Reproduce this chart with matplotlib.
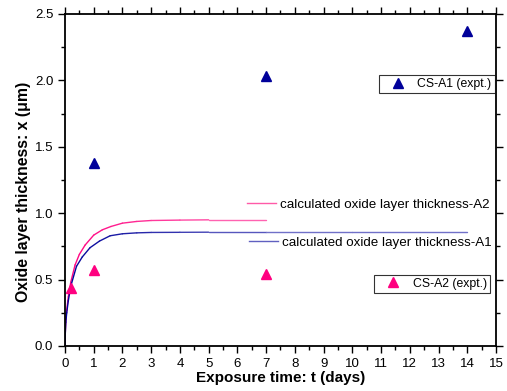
import numpy as np
import matplotlib
matplotlib.use("Agg")
import matplotlib.pyplot as plt
from matplotlib.collections import LineCollection
from matplotlib.lines import Line2D
from matplotlib.ticker import MultipleLocator

plt.rcParams['font.family'] = ['Liberation Sans', 'DejaVu Sans']

# experimental data
t_a1 = [1, 7, 14]
x_a1 = [1.38, 2.03, 2.37]
t_a2 = [0.2, 1, 7]
x_a2 = [0.435, 0.57, 0.54]

# calculated curves
t_calc_a2 = [0, 0.01, 0.03, 0.06, 0.115, 0.2, 0.35, 0.5, 0.7, 1.0, 1.3, 1.6, 2.0, 2.5, 3.0, 4, 5, 7]
x_calc_a2 = [0, 0.10, 0.20, 0.27, 0.37, 0.48, 0.61, 0.69, 0.76, 0.835, 0.875, 0.90, 0.925, 0.938, 0.945, 0.948, 0.95, 0.95]
t_calc_a1 = [0, 0.01, 0.03, 0.06, 0.115, 0.2, 0.4, 0.6, 0.87, 1.2, 1.57, 2.0, 2.5, 3.0, 4, 5, 7, 10, 14]
x_calc_a1 = [0, 0.09, 0.18, 0.25, 0.34, 0.45, 0.60, 0.67, 0.74, 0.79, 0.83, 0.845, 0.852, 0.855, 0.856, 0.857, 0.857, 0.857, 0.857]

lab_calc_a2 = "calculated oxide layer thickness-A2"
lab_calc_a1 = "calculated oxide layer thickness-A1"
lab_a1 = "CS-A1 (expt.)"
lab_a2 = "CS-A2 (expt.)"

blue = '#00009a'
pink = '#ff0080'

fig = plt.figure(figsize=(5.07, 3.91), dpi=100)
ax = fig.add_axes([0.1282, 0.1151, 0.8501, 0.8491])


def gradient_line(ax, t, x, c0, c1, lw=1.0):
    tt = np.asarray(t, float)
    xx = np.asarray(x, float)
    pts = np.column_stack([tt, xx]).reshape(-1, 1, 2)
    segs = np.concatenate([pts[:-1], pts[1:]], axis=1)
    frac = (tt[:-1] + tt[1:]) / 2 / 14.0
    frac = np.clip(frac * 1.8, 0, 1)
    c0 = np.array(matplotlib.colors.to_rgb(c0))
    c1 = np.array(matplotlib.colors.to_rgb(c1))
    cols = [tuple(c0 + (c1 - c0) * f) for f in frac]
    lc = LineCollection(segs, colors=cols, linewidths=lw, capstyle='round', joinstyle='round')
    ax.add_collection(lc)


gradient_line(ax, t_calc_a2, x_calc_a2, '#ff0080', '#ff80bf', 1.0)
gradient_line(ax, t_calc_a1, x_calc_a1, '#00009a', '#7070c8', 1.0)

ax.plot(t_a1, x_a1, linestyle='none', marker='^', markersize=7, color=blue, label=lab_a1)
ax.plot(t_a2, x_a2, linestyle='none', marker='^', markersize=7, color=pink, label=lab_a2)

ax.set_xlim(0, 15)
ax.set_ylim(0, 2.5)
ax.xaxis.set_major_locator(MultipleLocator(1))
ax.xaxis.set_minor_locator(MultipleLocator(0.5))
ax.yaxis.set_major_locator(MultipleLocator(0.5))
ax.yaxis.set_minor_locator(MultipleLocator(0.25))
ax.yaxis.set_major_formatter(matplotlib.ticker.FormatStrFormatter('%.1f'))
ax.tick_params(which='major', direction='out', length=5, width=1, labelsize=9.5)
ax.tick_params(which='minor', direction='out', length=3, width=1)
ax.tick_params(which='both', top=True, right=True)
for s in ax.spines.values():
    s.set_linewidth(1.3)

ax.set_xlabel("Exposure time: t (days)", fontsize=11, fontweight='bold', labelpad=1)
ax.set_ylabel("Oxide layer thickness: x (μm)", fontsize=11.4, fontweight='bold')
ax.yaxis.set_label_coords(-0.079, 0.464)

common = dict(borderaxespad=0, handletextpad=0.3)

h_a2c = Line2D([], [], color='#ff5aa8', lw=1.0)
h_a1c = Line2D([], [], color='#6060c0', lw=1.0)
leg1 = ax.legend([h_a2c], [lab_calc_a2], loc='center left', bbox_to_anchor=(0.422, 0.4256),
                 frameon=False, handlelength=2.2, borderpad=0, fontsize=9.6, **common)
ax.add_artist(leg1)
leg2 = ax.legend([h_a1c], [lab_calc_a1], loc='center left', bbox_to_anchor=(0.426, 0.311),
                 frameon=False, handlelength=2.2, borderpad=0, fontsize=9.6, **common)
ax.add_artist(leg2)

h_a1 = Line2D([], [], linestyle='none', marker='^', markersize=7, color=blue)
h_a2 = Line2D([], [], linestyle='none', marker='^', markersize=7, color=pink)
leg3 = ax.legend([h_a1], [lab_a1], loc='center left', bbox_to_anchor=(0.7285, 0.789),
                 frameon=True, fancybox=False, edgecolor='black', handlelength=2.6,
                 borderpad=0.25, fontsize=8.8, **common)
leg3.get_frame().set_linewidth(0.8)
ax.add_artist(leg3)
leg4 = ax.legend([h_a2], [lab_a2], loc='center left', bbox_to_anchor=(0.717, 0.188),
                 frameon=True, fancybox=False, edgecolor='black', handlelength=2.6,
                 borderpad=0.25, fontsize=8.8, **common)
leg4.get_frame().set_linewidth(0.8)

fig.savefig("out.png", dpi=100)
